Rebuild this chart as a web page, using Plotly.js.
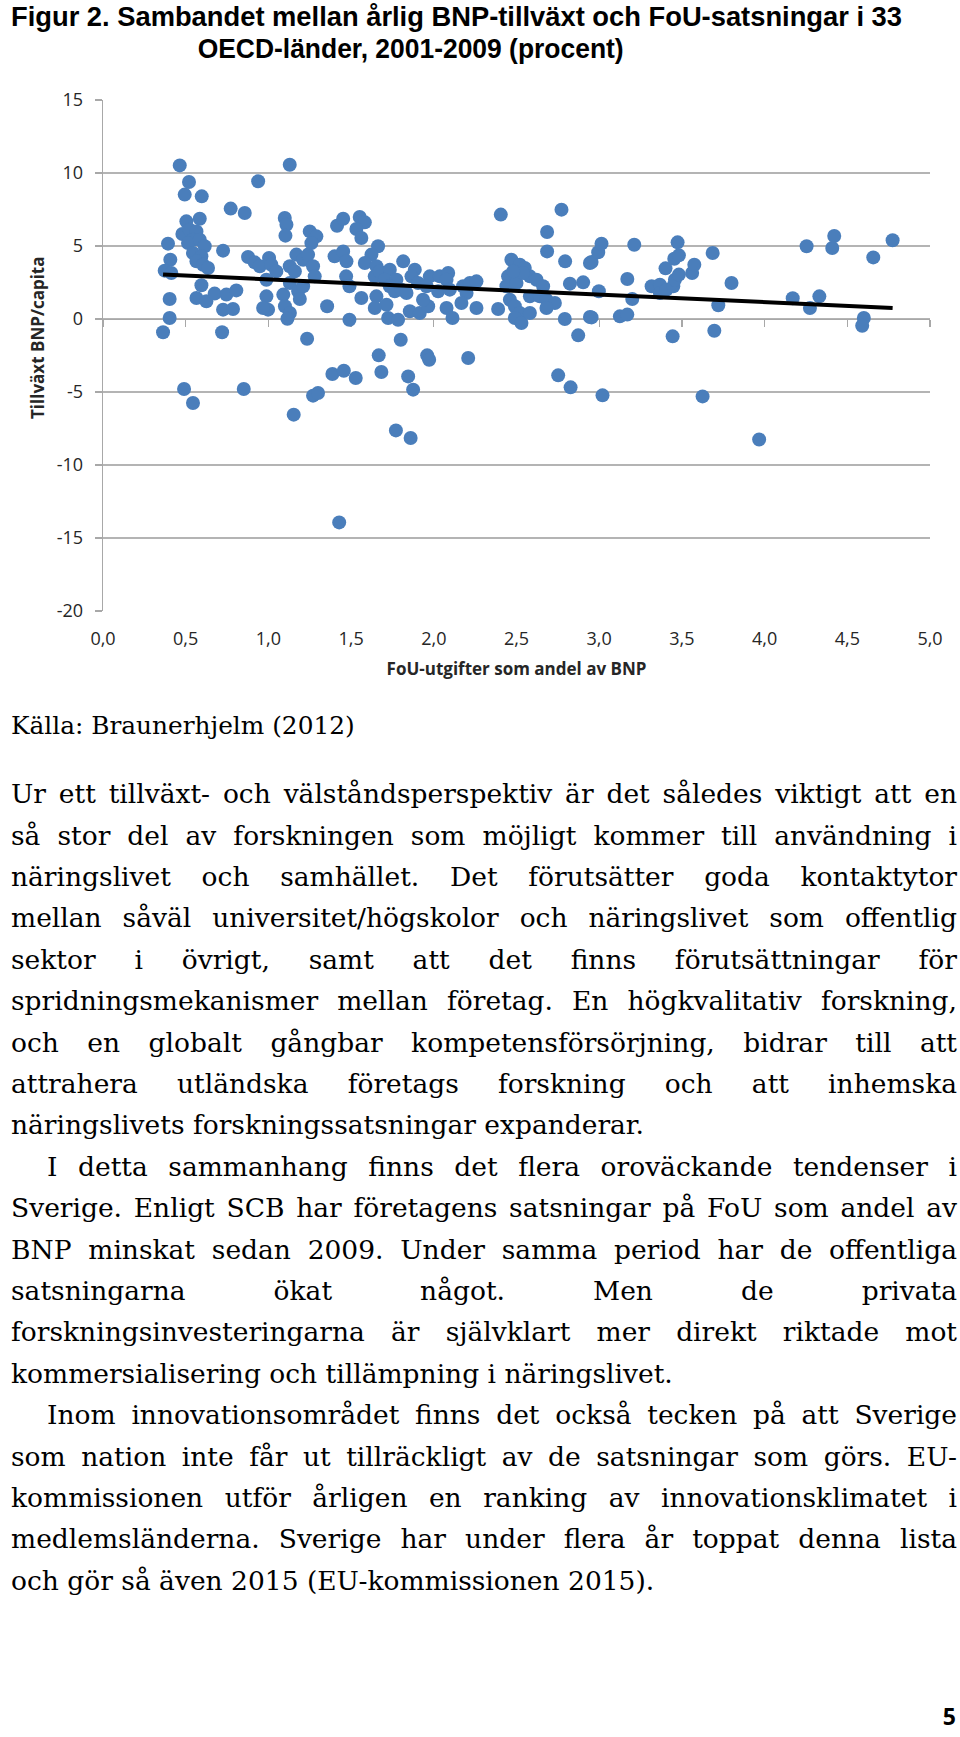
<!DOCTYPE html>
<html><head><meta charset="utf-8">
<script src="https://cdn.plot.ly/plotly-3.0.1.min.js"></script>
<style>
html,body{margin:0;padding:0;background:#fff;width:960px;height:1737px;overflow:hidden;}
#chart{position:absolute;left:0;top:0;width:960px;height:700px;}
.tline{position:absolute;left:11px;width:946px;font-family:"DejaVu Serif",serif;color:#000;}
.just{text-align:justify;text-align-last:justify;}
.left{text-align:left;}
#kalla{position:absolute;left:11px;font-family:"DejaVu Serif",serif;font-size:24.8px;line-height:24.8px;color:#000;white-space:nowrap;}
#pageno{position:absolute;right:4px;font-family:"Open Sans",sans-serif;font-weight:bold;font-size:23px;line-height:23px;color:#000;}
</style></head><body>
<div id="chart"></div>
<div id="text"></div>
<script>
// ---- data ----
const fouX = [
0.464,1.129,0.52,0.938,0.494,0.597,0.772,0.857,1.099,1.109,1.103,1.415,1.452,0.504,0.585,0.48,0.524,0.565,0.544,0.514,
0.585,0.615,0.544,0.595,0.565,0.605,0.635,0.393,0.407,0.373,0.413,0.877,0.917,0.948,1.004,1.018,1.048,0.988,1.129,1.16,
1.169,1.21,1.24,1.25,1.29,1.26,1.27,1.28,1.13,1.18,1.21,1.19,1.09,1.10,1.13,1.115,0.988,0.998,0.968,1.355,
1.47,1.49,1.40,1.452,1.49,0.595,0.565,0.625,0.675,0.746,0.806,0.726,0.786,0.403,0.403,0.363,0.72,0.726,1.234,1.387,
1.456,1.27,1.30,0.49,0.851,0.544,1.153,1.428,
1.552,1.583,1.532,1.562,1.663,1.623,1.583,1.653,1.472,1.643,1.673,1.734,1.704,1.774,1.734,1.764,1.804,1.562,1.653,1.714,
1.643,1.724,1.784,1.815,1.885,1.865,1.905,1.976,1.956,2.036,2.087,2.077,2.026,2.097,2.177,2.218,2.258,2.198,1.855,1.915,
1.966,1.935,1.835,2.077,2.113,2.167,2.258,2.389,1.80,1.667,1.683,1.960,1.972,2.208,1.528,1.845,1.875,1.771,1.86,2.405,
2.772,2.685,2.685,2.794,2.823,2.903,2.944,2.469,2.52,2.55,2.449,2.49,2.581,2.621,2.661,2.439,2.5,2.54,2.48,2.46,
2.49,2.52,2.49,2.53,2.581,2.581,2.641,2.681,2.732,2.681,2.792,2.873,2.944,2.752,2.827,
2.954,2.994,3.014,2.998,2.954,3.02,3.125,3.17,3.17,3.2,3.212,3.317,3.367,3.367,3.407,3.448,3.458,3.482,3.401,3.454,
3.482,3.474,3.562,3.575,3.444,3.686,3.696,3.625,3.72,3.80,3.967,4.17,4.274,4.331,4.254,4.409,4.421,4.6,4.59,4.657,4.774
];
const bnpY = [
10.52,10.57,9.38,9.43,8.52,8.40,7.56,7.26,6.92,6.46,5.71,6.39,6.87,6.69,6.87,5.82,6.12,6.0,5.43,5.21,
5.43,4.98,4.52,4.29,3.95,3.72,3.49,5.16,4.06,3.31,3.15,4.25,3.88,3.61,4.18,3.72,3.26,2.69,3.61,3.26,
4.41,4.06,4.41,6.0,5.66,5.2,3.61,2.92,2.47,1.9,2.24,1.37,1.67,0.87,0.41,0.02,1.55,0.64,0.75,0.87,
2.92,2.24,4.29,4.63,-0.05,2.31,1.44,1.21,1.74,1.67,1.96,0.64,0.68,1.37,0.07,-0.91,-0.91,4.68,-1.35,-3.77,
-3.54,-5.25,-5.07,-4.79,-4.79,-5.75,-6.55,-13.93,
6.99,6.62,6.16,5.55,4.98,4.41,3.84,3.61,3.95,2.92,3.26,3.38,2.69,2.69,2.24,1.9,2.01,1.44,1.55,0.98,
0.75,0.07,-0.05,3.95,3.38,2.92,2.47,2.92,2.24,2.92,3.15,2.69,1.9,2.01,2.24,2.47,2.58,1.78,0.53,0.41,
0.87,1.32,1.78,0.75,0.07,1.10,0.75,0.68,-1.42,-2.49,-3.63,-2.49,-2.79,-2.67,-4.04,-3.93,-4.84,-7.63,-8.15,7.15,
7.49,5.96,4.63,3.95,2.42,2.51,3.84,4.06,3.72,3.49,2.92,2.69,2.92,2.69,2.24,2.24,2.47,3.15,3.26,1.32,
0.87,0.41,0.07,-0.27,0.41,1.55,1.55,1.32,1.10,0.75,0.0,-1.12,0.14,-3.86,-4.68,
3.90,4.57,5.16,1.90,0.11,-5.23,0.18,0.30,2.74,1.37,5.09,2.24,2.35,1.78,2.01,2.24,2.69,3.04,3.47,4.13,
4.36,5.25,3.15,3.72,-1.19,4.52,-0.80,-5.30,0.94,2.47,-8.25,1.42,0.75,1.55,4.98,4.86,5.68,0.07,-0.46,4.22,5.39
];
// linear trend (y = intercept + slope * x)
const trendIntercept = 3.228;
const trendSlope = -0.518;

const titleLine1 = "Figur 2. Sambandet mellan årlig BNP-tillväxt och FoU-satsningar i 33";
const titleLine2 = "OECD-länder, 2001-2009 (procent)";
const xTitle = "FoU-utgifter som andel av BNP";
const yTitle = "Tillväxt BNP/capita";
const yTicks = [15, 10, 5, 0, -5, -10, -15, -20];
const yTickText = ["15", "10", "5", "0", "-5", "-10", "-15", "-20"];
const xTicks = [0, 0.5, 1, 1.5, 2, 2.5, 3, 3.5, 4, 4.5, 5];
const xTickText = ["0,0", "0,5", "1,0", "1,5", "2,0", "2,5", "3,0", "3,5", "4,0", "4,5", "5,0"];
const sourceText = "Källa: Braunerhjelm (2012)";
const para1 = [
"Ur ett tillväxt- och välståndsperspektiv är det således viktigt att en",
"så stor del av forskningen som möjligt kommer till användning i",
"näringslivet och samhället. Det förutsätter goda kontaktytor",
"mellan såväl universitet/högskolor och näringslivet som offentlig",
"sektor i övrigt, samt att det finns förutsättningar för",
"spridningsmekanismer mellan företag. En högkvalitativ forskning,",
"och en globalt gångbar kompetensförsörjning, bidrar till att",
"attrahera utländska företags forskning och att inhemska",
"näringslivets forskningssatsningar expanderar."
];
const para2 = [
"I detta sammanhang finns det flera oroväckande tendenser i",
"Sverige. Enligt SCB har företagens satsningar på FoU som andel av",
"BNP minskat sedan 2009. Under samma period har de offentliga",
"satsningarna ökat något. Men de privata",
"forskningsinvesteringarna är självklart mer direkt riktade mot",
"kommersialisering och tillämpning i näringslivet."
];
const para3 = [
"Inom innovationsområdet finns det också tecken på att Sverige",
"som nation inte får ut tillräckligt av de satsningar som görs. EU-",
"kommissionen utför årligen en ranking av innovationsklimatet i",
"medlemsländerna. Sverige har under flera år toppat denna lista",
"och gör så även 2015 (EU-kommissionen 2015)."
];
const pageNumber = "5";

// ---- chart ----
const xMin = Math.min(...fouX), xMax = Math.max(...fouX);
const trendX = [xMin, xMax];
const trendY = trendX.map(v => trendIntercept + trendSlope * v);

const tickFont = {family: "Open Sans, sans-serif", size: 18, color: "#262626"};
const titleFont = {family: "Liberation Sans, Arial, sans-serif", size: 28, weight: "bold", color: "#000"};
const gridC = "#b4b4b4", axisC = "#a8a8a8";

const traces = [
  {type: "scatter", mode: "markers", x: fouX, y: bnpY, xaxis: "x", yaxis: "y",
   marker: {color: "#4a7ebb", size: 14, line: {width: 0}}, hoverinfo: "skip", showlegend: false},
  {type: "scatter", mode: "lines", x: trendX, y: trendY, xaxis: "x2", yaxis: "y",
   line: {color: "#000000", width: 4}, hoverinfo: "skip", showlegend: false}
];

const layout = {
  width: 960, height: 700,
  margin: {l: 103, r: 30, t: 100, b: 89},
  paper_bgcolor: "#ffffff", plot_bgcolor: "#ffffff",
  showlegend: false,
  title: {text: titleLine1, x: 11/960, xref: "container", xanchor: "left",
          y: 1 - 16/700, yref: "container", yanchor: "middle", font: titleFont},
  annotations: [
    {text: titleLine2, xref: "paper", yref: "paper", x: (410-103)/827, y: (611-48)/511,
     xanchor: "center", yanchor: "middle", showarrow: false, font: titleFont},
    {text: yTitle, xref: "paper", yref: "paper", x: (37-103)/827, y: (611-338)/511,
     xanchor: "center", yanchor: "middle", textangle: -90, showarrow: false,
     font: {family: "Open Sans, sans-serif", size: 17, weight: "bold", color: "#262626"}}
  ],
  xaxis: {range: [0, 5], tickvals: xTicks, ticktext: xTickText, showgrid: false, zeroline: false,
          showline: false, ticks: "", tickfont: tickFont, ticklabelstandoff: 15,
          title: {text: xTitle, font: {family: "Open Sans, sans-serif", size: 17, weight: "bold", color: "#262626"}, standoff: 14},
          fixedrange: true},
  xaxis2: {range: [0, 5], overlaying: "x", anchor: "free", position: 20/35, side: "bottom",
           tickvals: xTicks, showticklabels: false, ticks: "outside", ticklen: 7, tickcolor: axisC, tickwidth: 1.3,
           showline: true, linecolor: axisC, linewidth: 1.3, showgrid: false, zeroline: false, layer: "below traces",
           fixedrange: true},
  yaxis: {range: [-20, 15], tickvals: yTicks, ticktext: yTickText, showgrid: true, gridcolor: gridC, gridwidth: 1.3, zeroline: false,
          showline: true, linecolor: axisC, linewidth: 1.3, ticks: "outside", ticklen: 7, tickcolor: axisC, tickwidth: 1.3,
          tickfont: tickFont, ticklabelstandoff: 8, fixedrange: true}
};

Plotly.newPlot("chart", traces, layout, {staticPlot: true, displayModeBar: false}).then(() => {
  // narrow the title lines to the condensed width seen in the reference
  const t1 = document.querySelector("#chart text.gtitle");
  if (t1) { t1.setAttribute("textLength", "891"); t1.setAttribute("lengthAdjust", "spacingAndGlyphs"); }
  const anns = document.querySelectorAll("#chart .annotation-text");
  anns.forEach(a => {
    if (a.textContent === titleLine2) { a.setAttribute("textLength", "426"); a.setAttribute("lengthAdjust", "spacingAndGlyphs"); }
  });
});

// ---- text below the chart ----
const host = document.getElementById("text");
const FS = 26.5, LH = 41.4, firstBaseline = 803;
const ASC = 0.928, DESC = 0.236;
let idx = 0;
function addPara(lines, indent) {
  lines.forEach((t, i) => {
    const d = document.createElement("div");
    d.className = "tline " + (i === lines.length - 1 ? "left" : "just");
    d.textContent = t;
    d.style.fontSize = FS + "px";
    d.style.lineHeight = LH + "px";
    const off = (LH - (ASC + DESC) * FS) / 2 + ASC * FS;
    d.style.top = (firstBaseline + idx * LH - off) + "px";
    if (i === 0 && indent) { d.style.textIndent = "36px"; }
    host.appendChild(d);
    let fs = FS;
    while (d.getBoundingClientRect().height > LH * 1.4 && fs > 18) {
      fs -= 0.25; d.style.fontSize = fs + "px";
    }
    idx++;
  });
}
addPara(para1, false);
addPara(para2, true);
addPara(para3, true);

const k = document.createElement("div");
k.id = "kalla"; k.textContent = sourceText;
k.style.top = (735 - ((24.8 - (ASC + DESC) * 24.8) / 2 + ASC * 24.8)) + "px";
host.appendChild(k);

const p = document.createElement("div");
p.id = "pageno"; p.textContent = pageNumber;
p.style.top = "1705px";
host.appendChild(p);
</script>
</body></html>
